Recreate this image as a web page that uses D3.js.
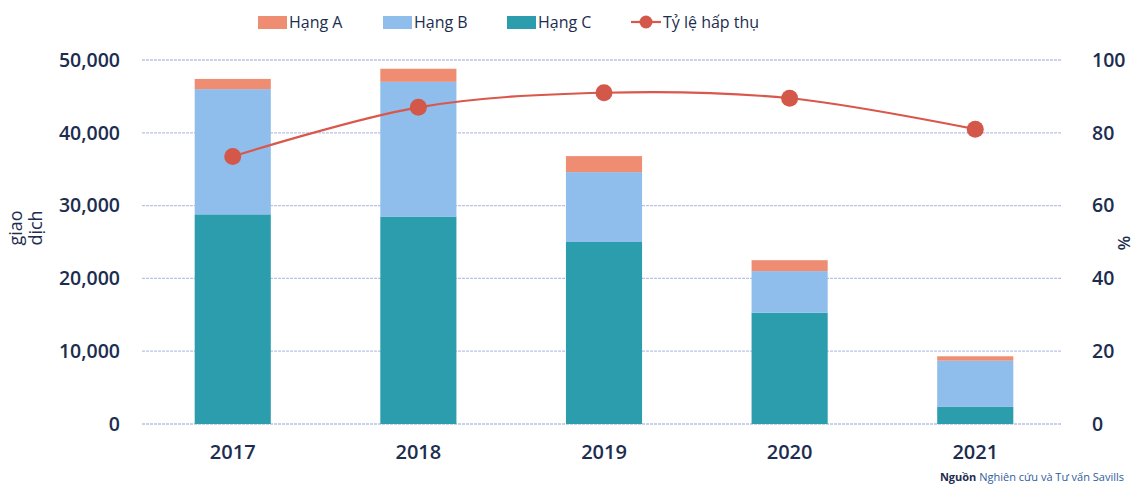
<!DOCTYPE html>
<html>
<head>
<meta charset="utf-8">
<script src="https://cdn.jsdelivr.net/npm/d3@7"></script>
<style>
  body { margin: 0; background: #fff; }
  svg text { font-family: "Open Sans", "Noto Sans", sans-serif; fill: #1c2d4f; }
</style>
</head>
<body>
<div id="app"></div>
<script>
// số liệu
const years = ["2017", "2018", "2019", "2020", "2021"];
const hangA = [1400, 1800, 2200, 1500, 600];
const hangB = [17200, 18500, 9600, 5700, 6300];
const hangC = [28800, 28500, 25000, 15300, 2400];
const tyLe = [73.5, 87, 91, 89.5, 81];
const leftTicks = [0, 10000, 20000, 30000, 40000, 50000];
const rightTicks = [0, 20, 40, 60, 80, 100];

const width = 1142, height = 486;
const colors = { A: "#ee8d72", B: "#8fbdec", C: "#2b9dac", line: "#d9574b" };

const svg = d3.select("#app").append("svg")
  .attr("width", width)
  .attr("height", height);

const x = d3.scaleBand().domain(years).range([139, 1069]).paddingInner(0.59).paddingOuter(0.3);
const yL = d3.scaleLinear().domain([0, 50000]).range([424, 60]);
const yR = d3.scaleLinear().domain([0, 100]).range([424, 60]);

// lưới
svg.append("g")
  .selectAll("line")
  .data(leftTicks)
  .join("line")
  .attr("x1", 142).attr("x2", 1062)
  .attr("y1", d => yL(d)).attr("y2", d => yL(d))
  .attr("stroke", "#b9c2e4")
  .attr("stroke-width", 1.3)
  .attr("stroke-dasharray", "3,1");

function styleTicks(g, size) {
  g.select(".domain").remove();
  g.selectAll("text").attr("font-size", size).attr("font-weight", 600)
    .style("font-family", "'Open Sans', sans-serif").attr("fill", "#1c2d4f");
}

// trục trái
svg.append("g")
  .attr("transform", "translate(120,0)")
  .call(d3.axisLeft(yL).tickValues(leftTicks).tickFormat(d3.format(",")).tickSize(0).tickPadding(0))
  .call(styleTicks, 19.5);

// trục phải
svg.append("g")
  .attr("transform", "translate(1092,0)")
  .call(d3.axisRight(yR).tickValues(rightTicks).tickSize(0).tickPadding(0))
  .call(styleTicks, 19.5);

// trục x
svg.append("g")
  .attr("transform", "translate(0,440)")
  .call(d3.axisBottom(x).tickSize(0).tickPadding(5))
  .call(styleTicks, 20);

// cột chồng
const rows = years.map((y, i) => ({ year: y, C: hangC[i], B: hangB[i], A: hangA[i] }));
const stacked = d3.stack().keys(["C", "B", "A"])(rows);

svg.append("g")
  .selectAll("g")
  .data(stacked)
  .join("g")
  .attr("fill", d => colors[d.key])
  .selectAll("rect")
  .data(d => d)
  .join("rect")
  .attr("x", d => x(d.data.year))
  .attr("width", x.bandwidth())
  .attr("y", d => yL(d[1]))
  .attr("height", d => yL(d[0]) - yL(d[1]));

// đường tỷ lệ hấp thụ
const line = d3.line()
  .x((d, i) => x(years[i]) + x.bandwidth() / 2)
  .y(d => yR(d))
  .curve(d3.curveCatmullRom);

svg.append("path")
  .datum(tyLe)
  .attr("d", line)
  .attr("fill", "none")
  .attr("stroke", colors.line)
  .attr("stroke-width", 2.2);

svg.append("g")
  .selectAll("circle")
  .data(tyLe)
  .join("circle")
  .attr("cx", (d, i) => x(years[i]) + x.bandwidth() / 2)
  .attr("cy", d => yR(d))
  .attr("r", 8.5)
  .attr("fill", "#d4584a");

// tiêu đề trục
svg.append("text")
  .attr("transform", "translate(24,228) rotate(-90)")
  .attr("text-anchor", "middle")
  .attr("font-size", 18)
  .attr("font-weight", 500)
  .selectAll("tspan")
  .data(["giao", "dịch"])
  .join("tspan")
  .attr("x", 0)
  .attr("dy", (d, i) => i === 0 ? -2 : 20)
  .text(d => d);

svg.append("text")
  .attr("transform", "translate(1118,243) rotate(90)")
  .attr("text-anchor", "middle")
  .attr("font-size", 17)
  .attr("font-weight", 600)
  .text("%");

// chú giải
const legend = [
  { label: "Hạng A", key: "A", x: 258 },
  { label: "Hạng B", key: "B", x: 383 },
  { label: "Hạng C", key: "C", x: 507 }
];
const lg = svg.append("g");
legend.forEach(d => {
  lg.append("rect")
    .attr("x", d.x).attr("y", 16)
    .attr("width", 29).attr("height", 13)
    .attr("fill", colors[d.key]);
  lg.append("text")
    .attr("x", d.x + 31).attr("y", 28)
    .attr("font-size", 16).attr("font-weight", 500)
    .text(d.label);
});
lg.append("line")
  .attr("x1", 631).attr("x2", 661)
  .attr("y1", 22).attr("y2", 22)
  .attr("stroke", colors.line).attr("stroke-width", 2.2);
lg.append("circle")
  .attr("cx", 646).attr("cy", 22).attr("r", 6.5)
  .attr("fill", "#d4584a");
lg.append("text")
  .attr("x", 663).attr("y", 28)
  .attr("font-size", 16).attr("font-weight", 500)
  .text("Tỷ lệ hấp thụ");

// nguồn
const src = svg.append("text")
  .attr("x", 1124).attr("y", 481)
  .attr("text-anchor", "end")
  .attr("font-size", 11);
src.append("tspan").attr("font-weight", 700).text("Nguồn ");
src.append("tspan").attr("fill", "#2f5d9c").text("Nghiên cứu và Tư vấn Savills");
</script>
</body>
</html>
